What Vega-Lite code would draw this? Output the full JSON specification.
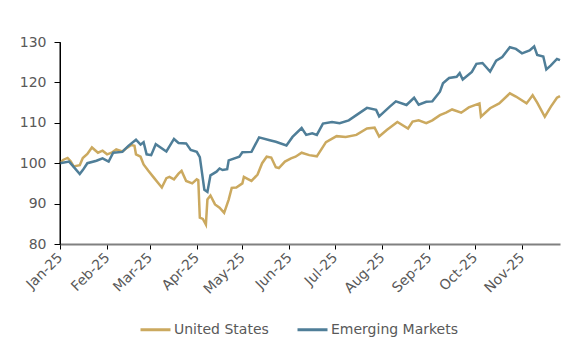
{
  "$schema": "https://vega.github.io/schema/vega-lite/v6.json",
  "width": 500,
  "height": 202,
  "autosize": {"type": "none"},
  "padding": {"left": 60, "top": 42, "right": 20, "bottom": 111},
  "background": "white",
  "config": {
    "view": {"stroke": null},
    "font": "DejaVu Sans",
    "axis": {"grid": false, "title": null, "labelFont": "DejaVu Sans", "labelFontSize": 14, "labelColor": "#595959", "tickColor": "#000000", "tickSize": 5, "tickWidth": 1},
    "axisX": {"domainColor": "#808080", "domainWidth": 2, "labelAngle": -45, "labelAlign": "right", "labelBaseline": "middle", "labelPadding": 6, "labelOverlap": false, "labelFlush": false},
    "legend": {"labelFont": "DejaVu Sans", "labelFontSize": 14, "labelColor": "#595959"}
  },
  "datasets": {
    "us": [
      {"date": "2025-01-01", "value": 100.0}, {"date": "2025-01-03", "value": 100.8}, {"date": "2025-01-06", "value": 101.3},
      {"date": "2025-01-08", "value": 100.5}, {"date": "2025-01-10", "value": 99.2}, {"date": "2025-01-14", "value": 99.5},
      {"date": "2025-01-16", "value": 101.3}, {"date": "2025-01-19", "value": 102.3}, {"date": "2025-01-22", "value": 103.9},
      {"date": "2025-01-26", "value": 102.6}, {"date": "2025-01-29", "value": 103.1}, {"date": "2025-02-01", "value": 102.2},
      {"date": "2025-02-04", "value": 102.6}, {"date": "2025-02-07", "value": 103.4}, {"date": "2025-02-11", "value": 102.9},
      {"date": "2025-02-14", "value": 103.8}, {"date": "2025-02-17", "value": 104.5}, {"date": "2025-02-19", "value": 104.3},
      {"date": "2025-02-20", "value": 102.2}, {"date": "2025-02-23", "value": 101.6}, {"date": "2025-02-25", "value": 99.7},
      {"date": "2025-02-28", "value": 98.2}, {"date": "2025-03-04", "value": 96.3}, {"date": "2025-03-07", "value": 94.9},
      {"date": "2025-03-09", "value": 94.0}, {"date": "2025-03-12", "value": 96.3}, {"date": "2025-03-14", "value": 96.6},
      {"date": "2025-03-17", "value": 96.0}, {"date": "2025-03-20", "value": 97.4}, {"date": "2025-03-22", "value": 98.1},
      {"date": "2025-03-25", "value": 95.6}, {"date": "2025-03-29", "value": 95.0}, {"date": "2025-04-01", "value": 96.0},
      {"date": "2025-04-02", "value": 95.8}, {"date": "2025-04-03", "value": 86.5}, {"date": "2025-04-05", "value": 86.2},
      {"date": "2025-04-07", "value": 84.8}, {"date": "2025-04-08", "value": 91.0}, {"date": "2025-04-10", "value": 92.0},
      {"date": "2025-04-13", "value": 89.8}, {"date": "2025-04-16", "value": 89.0}, {"date": "2025-04-19", "value": 87.7},
      {"date": "2025-04-22", "value": 91.0}, {"date": "2025-04-24", "value": 93.9}, {"date": "2025-04-27", "value": 94.0},
      {"date": "2025-05-01", "value": 95.0}, {"date": "2025-05-02", "value": 96.6}, {"date": "2025-05-05", "value": 96.0},
      {"date": "2025-05-07", "value": 95.6}, {"date": "2025-05-11", "value": 97.2}, {"date": "2025-05-14", "value": 100.0},
      {"date": "2025-05-17", "value": 101.6}, {"date": "2025-05-20", "value": 101.4}, {"date": "2025-05-23", "value": 99.0},
      {"date": "2025-05-25", "value": 98.8}, {"date": "2025-05-29", "value": 100.4}, {"date": "2025-06-02", "value": 101.2},
      {"date": "2025-06-05", "value": 101.6}, {"date": "2025-06-09", "value": 102.6}, {"date": "2025-06-14", "value": 102.0},
      {"date": "2025-06-19", "value": 101.7}, {"date": "2025-06-25", "value": 105.2}, {"date": "2025-07-02", "value": 106.7},
      {"date": "2025-07-08", "value": 106.5}, {"date": "2025-07-15", "value": 107.0}, {"date": "2025-07-22", "value": 108.6},
      {"date": "2025-07-27", "value": 108.8}, {"date": "2025-07-30", "value": 106.6}, {"date": "2025-08-04", "value": 108.2},
      {"date": "2025-08-11", "value": 110.2}, {"date": "2025-08-18", "value": 108.6}, {"date": "2025-08-21", "value": 110.3},
      {"date": "2025-08-25", "value": 110.6}, {"date": "2025-08-30", "value": 109.9}, {"date": "2025-09-03", "value": 110.6},
      {"date": "2025-09-08", "value": 111.9}, {"date": "2025-09-12", "value": 112.5}, {"date": "2025-09-16", "value": 113.3},
      {"date": "2025-09-22", "value": 112.5}, {"date": "2025-09-27", "value": 113.8}, {"date": "2025-10-04", "value": 114.8},
      {"date": "2025-10-05", "value": 111.5}, {"date": "2025-10-11", "value": 113.6}, {"date": "2025-10-17", "value": 114.8},
      {"date": "2025-10-24", "value": 117.3}, {"date": "2025-10-28", "value": 116.5}, {"date": "2025-11-04", "value": 114.8},
      {"date": "2025-11-08", "value": 116.8}, {"date": "2025-11-11", "value": 115.0}, {"date": "2025-11-16", "value": 111.5},
      {"date": "2025-11-20", "value": 114.0}, {"date": "2025-11-24", "value": 116.2}, {"date": "2025-11-26", "value": 116.6}
    ],
    "em": [
      {"date": "2025-01-01", "value": 100.0}, {"date": "2025-01-07", "value": 100.4}, {"date": "2025-01-10", "value": 99.1},
      {"date": "2025-01-14", "value": 97.3}, {"date": "2025-01-16", "value": 98.3}, {"date": "2025-01-19", "value": 100.0},
      {"date": "2025-01-25", "value": 100.6}, {"date": "2025-01-29", "value": 101.2}, {"date": "2025-02-02", "value": 100.4},
      {"date": "2025-02-05", "value": 102.6}, {"date": "2025-02-11", "value": 102.8}, {"date": "2025-02-15", "value": 104.3},
      {"date": "2025-02-20", "value": 105.8}, {"date": "2025-02-23", "value": 104.6}, {"date": "2025-02-25", "value": 105.2},
      {"date": "2025-02-27", "value": 102.2}, {"date": "2025-03-02", "value": 102.0}, {"date": "2025-03-05", "value": 104.7},
      {"date": "2025-03-12", "value": 102.9}, {"date": "2025-03-17", "value": 106.0}, {"date": "2025-03-20", "value": 105.0},
      {"date": "2025-03-25", "value": 104.9}, {"date": "2025-03-28", "value": 103.3}, {"date": "2025-04-01", "value": 102.8},
      {"date": "2025-04-03", "value": 101.5}, {"date": "2025-04-06", "value": 93.4}, {"date": "2025-04-08", "value": 92.9},
      {"date": "2025-04-10", "value": 97.0}, {"date": "2025-04-14", "value": 97.9}, {"date": "2025-04-16", "value": 98.7},
      {"date": "2025-04-18", "value": 98.3}, {"date": "2025-04-21", "value": 98.5}, {"date": "2025-04-22", "value": 100.7},
      {"date": "2025-04-29", "value": 101.6}, {"date": "2025-05-01", "value": 102.7}, {"date": "2025-05-07", "value": 102.8},
      {"date": "2025-05-12", "value": 106.4}, {"date": "2025-05-19", "value": 105.7}, {"date": "2025-05-23", "value": 105.3},
      {"date": "2025-05-30", "value": 104.4}, {"date": "2025-06-03", "value": 106.5}, {"date": "2025-06-09", "value": 108.7},
      {"date": "2025-06-12", "value": 107.0}, {"date": "2025-06-16", "value": 107.4}, {"date": "2025-06-19", "value": 107.0},
      {"date": "2025-06-23", "value": 109.8}, {"date": "2025-06-29", "value": 110.2}, {"date": "2025-07-04", "value": 109.9},
      {"date": "2025-07-10", "value": 110.6}, {"date": "2025-07-15", "value": 111.9}, {"date": "2025-07-22", "value": 113.7},
      {"date": "2025-07-28", "value": 113.2}, {"date": "2025-07-30", "value": 111.6}, {"date": "2025-08-06", "value": 114.0},
      {"date": "2025-08-10", "value": 115.3}, {"date": "2025-08-17", "value": 114.4}, {"date": "2025-08-22", "value": 116.2},
      {"date": "2025-08-25", "value": 114.5}, {"date": "2025-08-30", "value": 115.2}, {"date": "2025-09-03", "value": 115.3},
      {"date": "2025-09-08", "value": 117.7}, {"date": "2025-09-10", "value": 119.8}, {"date": "2025-09-14", "value": 121.1},
      {"date": "2025-09-19", "value": 121.4}, {"date": "2025-09-21", "value": 122.3}, {"date": "2025-09-23", "value": 120.7},
      {"date": "2025-09-29", "value": 122.6}, {"date": "2025-10-02", "value": 124.6}, {"date": "2025-10-06", "value": 124.8},
      {"date": "2025-10-11", "value": 122.7}, {"date": "2025-10-15", "value": 125.4}, {"date": "2025-10-19", "value": 126.3},
      {"date": "2025-10-24", "value": 128.7}, {"date": "2025-10-28", "value": 128.3}, {"date": "2025-11-01", "value": 127.2},
      {"date": "2025-11-06", "value": 127.9}, {"date": "2025-11-09", "value": 128.9}, {"date": "2025-11-11", "value": 126.8},
      {"date": "2025-11-15", "value": 126.4}, {"date": "2025-11-17", "value": 123.2}, {"date": "2025-11-20", "value": 124.2},
      {"date": "2025-11-24", "value": 125.8}, {"date": "2025-11-26", "value": 125.5}
    ]
  },
  "layer": [
    {
      "data": {"name": "us"},
      "mark": {"type": "line", "strokeWidth": 2.5},
      "encoding": {
        "x": {
          "field": "date", "type": "temporal",
          "scale": {"type": "utc", "domain": ["2025-01-01", "2025-11-26"], "nice": false},
          "axis": {
            "tickCount": {"interval": "month", "step": 1},
            "labelExpr": "utcFormat(datum.value, '%b-%y')"
          }
        },
        "y": {
          "field": "value", "type": "quantitative",
          "scale": {"domain": [80, 130], "nice": false, "zero": false},
          "axis": {
            "orient": "left",
            "values": [80, 90, 100, 110, 120, 130],
            "domain": true, "ticks": true, "domainColor": "#000000", "domainWidth": 1,
            "tickColor": "#000000", "tickSize": 6, "tickWidth": 1, "labelPadding": 8
          }
        },
        "color": {
          "datum": "United States", "type": "nominal",
          "scale": {"domain": ["United States", "Emerging Markets"], "range": ["#CBA95F", "#4F7E98"]},
          "legend": {
            "title": null, "orient": "none", "direction": "horizontal",
            "legendX": 79, "legendY": 271,
            "symbolType": "stroke", "symbolStrokeWidth": 3, "symbolSize": 900,
            "columnPadding": 22, "labelOffset": 2
          }
        }
      }
    },
    {
      "data": {"name": "em"},
      "mark": {"type": "line", "strokeWidth": 2.5},
      "encoding": {
        "x": {"field": "date", "type": "temporal"},
        "y": {"field": "value", "type": "quantitative"},
        "color": {"datum": "Emerging Markets", "type": "nominal"}
      }
    },
    {
      "data": {"values": [{"date": "2025-01-01", "lo": 80, "hi": 130}]},
      "mark": {"type": "rule", "color": "#000000", "strokeWidth": 1},
      "encoding": {
        "x": {"field": "date", "type": "temporal"},
        "y": {"field": "lo", "type": "quantitative"},
        "y2": {"field": "hi"}
      }
    }
  ]
}
